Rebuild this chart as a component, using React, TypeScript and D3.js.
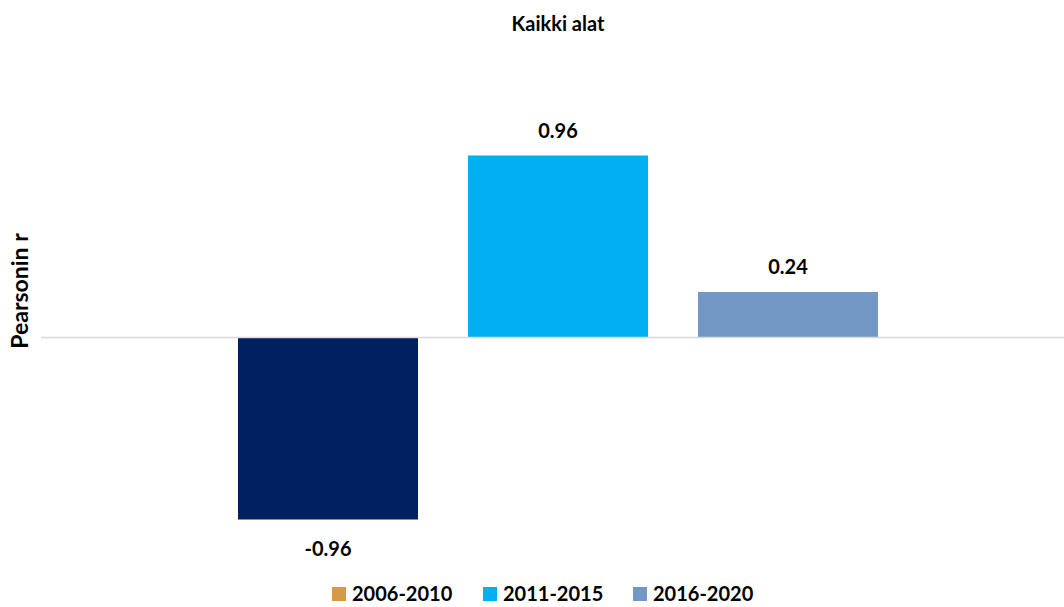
import React, { useEffect } from "react";
import * as d3 from "d3";

const title = "Kaikki alat";
const yLabel = "Pearsonin r";
const categories = ["Kaikki alat"];
const seriesNames = ["2006-2010", "2011-2015", "2016-2020"];
const values = [-0.96, 0.96, 0.24];
const valueLabels = ["-0.96", "0.96", "0.24"];
// Excel legend keeps the original palette, bars are recoloured
const barColors = ["#002060", "#00b0f0", "#7398c6"];
const legendColors = ["#d69a44", "#00b0f0", "#7398c6"];

const W = 1064;
const H = 607;
const margin = { top: 110, right: -11, bottom: 42, left: 41 };
const font = "Lato, 'Open Sans', sans-serif";

export default function App() {
  useEffect(() => {
    document.body.style.margin = "0";
  }, []);

  const x0 = d3
    .scaleBand()
    .domain(categories)
    .range([margin.left, W - margin.right])
    .paddingInner(0)
    .paddingOuter(0.3078);

  const x1 = d3
    .scaleBand()
    .domain(seriesNames)
    .range([0, x0.bandwidth()])
    .paddingInner(0.2174)
    .paddingOuter(0);

  const y = d3
    .scaleLinear()
    .domain([-1.2, 1.2])
    .range([H - margin.bottom, margin.top]);

  const legendX = [332, 483, 633];

  return (
    <svg width={W} height={H} style={{ display: "block" }} fontFamily={font}>
      <rect width={W} height={H} fill="#fff" />
      <text x={558} y={31} textAnchor="middle" fontSize={20} fontWeight={700} fill="#000">
        {title}
      </text>
      <text
        transform={`translate(28, ${291}) rotate(-90)`}
        textAnchor="middle"
        fontSize={23}
        fontWeight={700}
        fill="#000"
      >
        {yLabel}
      </text>
      {categories.map((c) => (
        <g key={c} transform={`translate(${x0(c)},0)`}>
          {seriesNames.map((s, i) => {
            const v = values[i];
            const bx = x1(s)!;
            const top = y(Math.max(0, v));
            const h = Math.abs(y(v) - y(0));
            const cx = bx + x1.bandwidth() / 2;
            const ly = v >= 0 ? y(v) - 18 : y(v) + 36;
            return (
              <g key={s}>
                <rect x={bx} y={top} width={x1.bandwidth()} height={h} fill={barColors[i]} />
                <text x={cx} y={ly} textAnchor="middle" fontSize={20} fontWeight={700} fill="#000">
                  {valueLabels[i]}
                </text>
              </g>
            );
          })}
        </g>
      ))}
      <line x1={margin.left} x2={W} y1={y(0)} y2={y(0)} stroke="#d9d9d9" strokeWidth={1.5} />
      {seriesNames.map((s, i) => (
        <g key={s} transform={`translate(${legendX[i]},587)`}>
          <rect width={14} height={14} fill={legendColors[i]} />
          <text x={20} y={14} fontSize={20} fontWeight={700} fill="#000">
            {s}
          </text>
        </g>
      ))}
    </svg>
  );
}
